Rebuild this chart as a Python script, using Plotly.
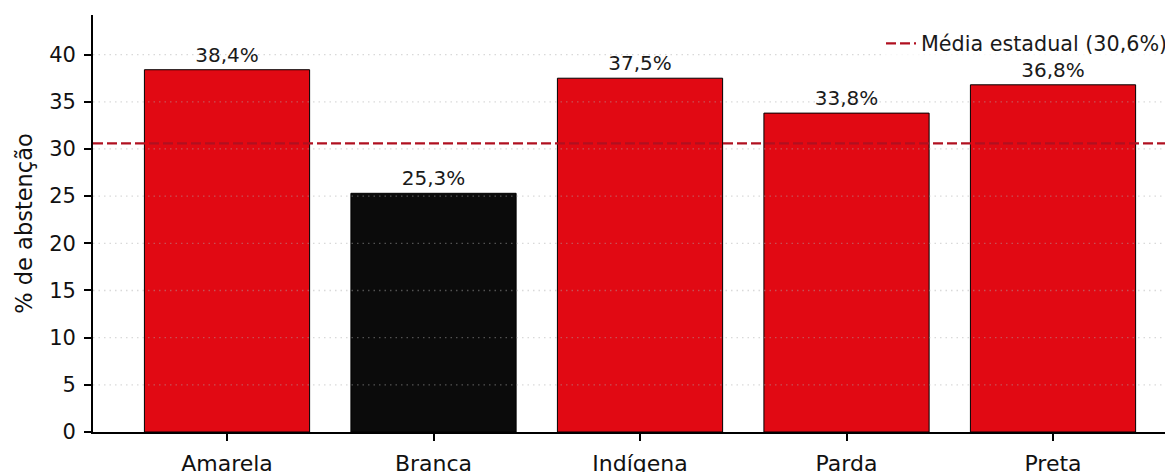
import plotly.graph_objects as go

categorias = ["Amarela", "Branca", "Indígena", "Parda", "Preta"]
abstencao = [38.4, 25.3, 37.5, 33.8, 36.8]
media_estadual = 30.6
cores = ["#e10913", "#0b0b0b", "#e10913", "#e10913", "#e10913"]
y_ticks = [0, 5, 10, 15, 20, 25, 30, 35, 40]

textos = [f"{v:.1f}%".replace(".", ",") for v in abstencao]

fig = go.Figure()
fig.add_trace(go.Bar(
    x=list(range(len(categorias))), y=abstencao,
    marker=dict(color=cores, line=dict(color="#000000", width=1)),
    width=0.8,
    text=textos, textposition="outside", cliponaxis=False,
    textfont=dict(family="DejaVu Sans", size=20, color="#1a1a1a"),
    showlegend=False,
))

# grid lines drawn above the bars (as in the reference)
for t in y_ticks[1:]:
    fig.add_hline(y=t, line=dict(color="rgba(170,170,170,0.45)", width=1.3, dash="1.5px,4px"),
                  layer="above")

fig.add_hline(y=media_estadual, line=dict(color="#b01020", width=2.2, dash="10px,4px"),
              showlegend=True, name=f"Média estadual ({media_estadual:.1f}%)".replace(".", ","),
              layer="above")

fig.update_layout(
    width=1165, height=464,
    margin=dict(l=85, r=0, t=7, b=40, autoexpand=False),
    paper_bgcolor="white", plot_bgcolor="white",
    font=dict(family="DejaVu Sans", size=20, color="#111111"),
    legend=dict(x=1.0, y=0.98, xanchor="right", yanchor="top",
                bgcolor="rgba(255,255,255,0.8)", borderwidth=0,
                font=dict(size=20.7, color="#1a1a1a")),
    xaxis=dict(
        tickmode="array", tickvals=list(range(len(categorias))), ticktext=categorias,
        range=[-0.649, 4.581], showline=True, linecolor="black", linewidth=1.8,
        ticks="outside", ticklen=7, tickwidth=1.5, tickcolor="black",
        showgrid=False, zeroline=False, tickfont=dict(size=22), ticklabelstandoff=4,
        automargin=False,
    ),
    yaxis=dict(
        range=[0, 44.2], tickvals=y_ticks, showline=True, linecolor="black", linewidth=1.8,
        ticks="outside", ticklen=7, tickwidth=1.5, tickcolor="black",
        showgrid=False, zeroline=False, tickfont=dict(size=21), ticklabelstandoff=4,
        title=dict(text="% de abstenção", font=dict(size=22.5), standoff=10),
        automargin=False,
    ),
)

fig.write_html("out.html")
